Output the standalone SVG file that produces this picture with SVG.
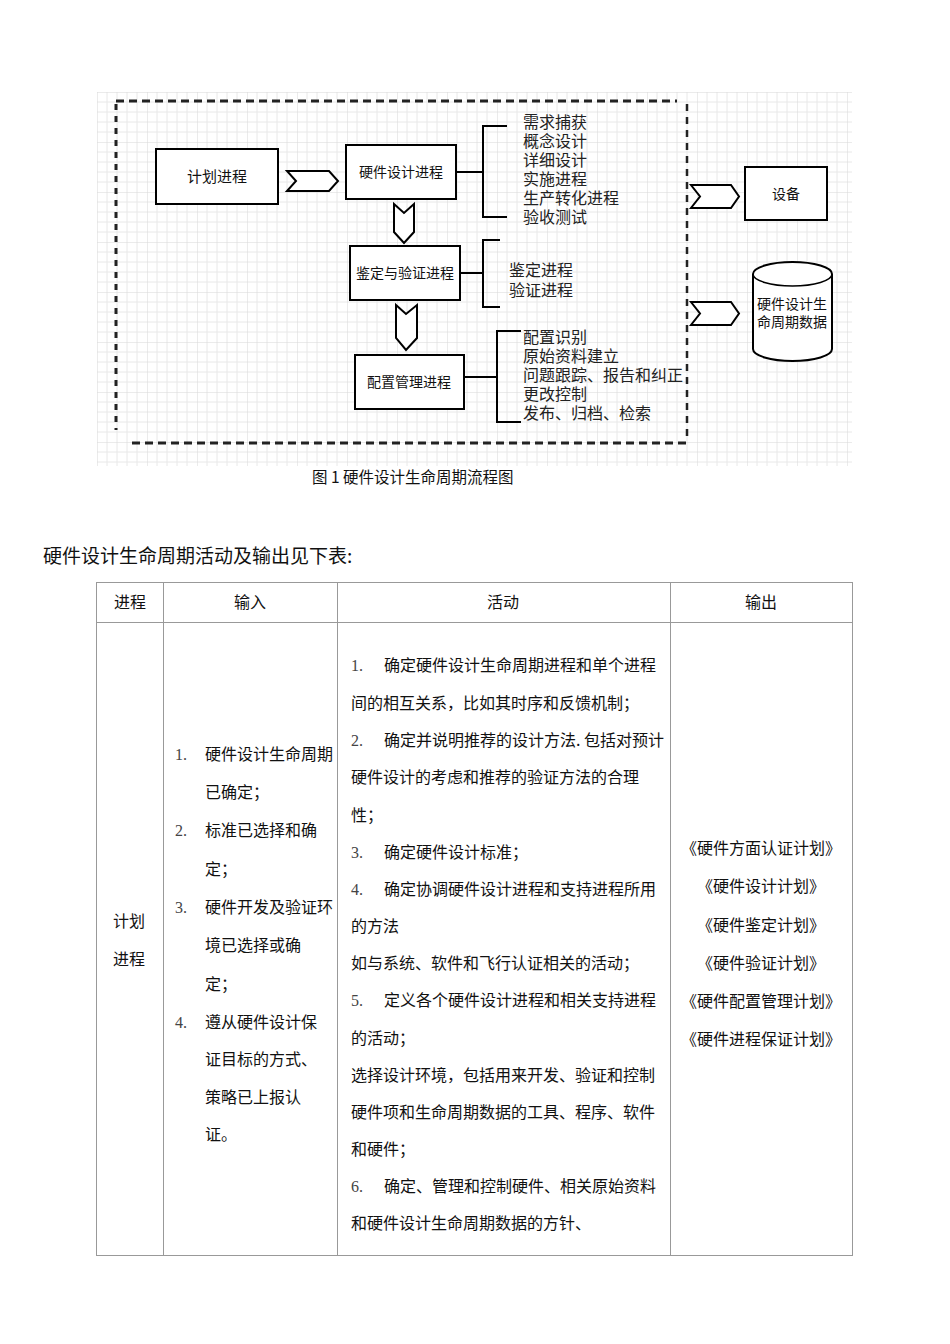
<svg xmlns="http://www.w3.org/2000/svg" width="950" height="1344" viewBox="0 0 950 1344">
<defs>
<pattern id="grid" x="97" y="92" width="50" height="50" patternUnits="userSpaceOnUse">
<path d="M10 0V50M20 0V50M30 0V50M40 0V50M0 10H50M0 20H50M0 30H50M0 40H50" stroke="#e8e8e8" stroke-width="1" fill="none"/>
<path d="M0 0V50M0 0H50" stroke="#d8d8d8" stroke-width="1" fill="none"/>
</pattern>
<style>
.box{fill:#fff;stroke:#000;stroke-width:2}
.chev{fill:#fff;stroke:#000;stroke-width:2;stroke-linejoin:miter}
.br{fill:none;stroke:#000;stroke-width:2}
.dash{fill:none;stroke:#222;stroke-width:3;stroke-dasharray:8 5}
.lbl{font-family:"Noto Sans CJK SC","Noto Sans",sans-serif;font-size:14px;fill:#111;text-anchor:middle}
.li{font-family:"Noto Sans CJK SC","Noto Sans",sans-serif;font-size:16px;fill:#222}
.t{font-family:"Noto Sans CJK SC","Noto Sans",sans-serif;font-size:16px;fill:#111}
.c{text-anchor:middle}
.n{font-family:"Liberation Serif","DejaVu Serif",serif;font-size:16px;fill:#444}
.tl{stroke:#999;stroke-width:1;fill:none}
</style>
</defs>
<rect width="950" height="1344" fill="#fff"/>
<rect x="97" y="92" width="755" height="374" fill="url(#grid)"/>

<g id="boundary">
<line class="dash" x1="116" y1="101" x2="677" y2="101"/>
<line class="dash" x1="116" y1="104" x2="116" y2="430" style="stroke-dasharray:6 6"/>
<line class="dash" x1="132" y1="443" x2="688" y2="443"/>
<line class="dash" x1="687" y1="104" x2="687" y2="440" style="stroke-width:2.5;stroke-dasharray:7 6"/>
</g>

<g id="n-plan"><rect class="box" x="156" y="149" width="122" height="55"/><text class="lbl" x="217" y="182" style="font-size:15px">计划进程</text></g>
<g id="n-design"><rect class="box" x="346" y="145" width="110" height="54"/><text class="lbl" x="401" y="177">硬件设计进程</text></g>
<g id="n-verify"><rect class="box" x="350" y="246" width="110" height="54"/><text class="lbl" x="405" y="278">鉴定与验证进程</text></g>
<g id="n-config"><rect class="box" x="355" y="355" width="109" height="54"/><text class="lbl" x="409" y="387">配置管理进程</text></g>
<g id="n-device"><rect class="box" x="745" y="167" width="82" height="53"/><text class="lbl" x="786" y="199">设备</text></g>
<g id="n-data">
<path class="box" d="M753 274 A39.5 12 0 0 1 832 274 V349 A39.5 12 0 0 1 753 349 Z"/>
<path class="br" d="M753 274 A39.5 12 0 0 0 832 274" style="stroke-width:1.5"/>
<text class="lbl" x="792" y="309">硬件设计生</text>
<text class="lbl" x="792" y="327">命周期数据</text>
</g>

<g id="design-list">
<text class="li" x="523" y="128">需求捕获</text>
<text class="li" x="523" y="147">概念设计</text>
<text class="li" x="523" y="166">详细设计</text>
<text class="li" x="523" y="185">实施进程</text>
<text class="li" x="523" y="204">生产转化进程</text>
<text class="li" x="523" y="223">验收测试</text>
</g>
<g id="verify-list">
<text class="li" x="509" y="276">鉴定进程</text>
<text class="li" x="509" y="296">验证进程</text>
</g>
<g id="config-list">
<text class="li" x="523" y="343">配置识别</text>
<text class="li" x="523" y="362">原始资料建立</text>
<text class="li" x="523" y="381">问题跟踪、报告和纠正</text>
<text class="li" x="523" y="400">更改控制</text>
<text class="li" x="523" y="419">发布、归档、检索</text>
</g>

<g id="connectors">
<polygon class="chev" points="287,171 329,171 338,181 329,191 287,191 296,181"/>
<polygon class="chev" points="394,204 404,213 414,204 414,232 404,243 394,232"/>
<polygon class="chev" points="396,305 406,314 417,305 417,338 406,350 396,338"/>
<polygon class="chev" points="691,185 731,185 739,196.5 731,208 691,208 700,196.5"/>
<polygon class="chev" points="691,302 731,302 739,313.5 731,325 691,325 700,313.5"/>
<path class="br" d="M456 172H483M507 126H483V217H507"/>
<path class="br" d="M460 273H483M500 240H483V307H500"/>
<path class="br" d="M464 377H497M521 331H497V422H521"/>
</g>

<text class="t" x="312" y="483" style="font-size:15.5px">图 1 硬件设计生命周期流程图</text>
<text class="t" x="43" y="563" style="font-size:19px">硬件设计生命周期活动及输出见下表:</text>

<g id="table">
<rect class="tl" x="96.5" y="582.5" width="756" height="673"/>
<line class="tl" x1="96" y1="622.5" x2="853" y2="622.5"/>
<line class="tl" x1="163.5" y1="582" x2="163.5" y2="1256"/>
<line class="tl" x1="337.5" y1="582" x2="337.5" y2="1256"/>
<line class="tl" x1="670.5" y1="582" x2="670.5" y2="1256"/>
<text class="t c" x="130" y="608">进程</text>
<text class="t c" x="250" y="608">输入</text>
<text class="t c" x="503" y="608">活动</text>
<text class="t c" x="761" y="608">输出</text>
<text class="t c" x="129" y="927">计划</text>
<text class="t c" x="129" y="965">进程</text>
</g>

<g id="inputs">
<text class="n" x="175" y="760">1.</text><text class="t" x="205" y="760">硬件设计生命周期</text>
<text class="t" x="205" y="798">已确定；</text>
<text class="n" x="175" y="836">2.</text><text class="t" x="205" y="836">标准已选择和确</text>
<text class="t" x="205" y="875">定；</text>
<text class="n" x="175" y="913">3.</text><text class="t" x="205" y="913">硬件开发及验证环</text>
<text class="t" x="205" y="951">境已选择或确</text>
<text class="t" x="205" y="990">定；</text>
<text class="n" x="175" y="1028">4.</text><text class="t" x="205" y="1028">遵从硬件设计保</text>
<text class="t" x="205" y="1065">证目标的方式、</text>
<text class="t" x="205" y="1103">策略已上报认</text>
<text class="t" x="205" y="1140">证。</text>
</g>

<g id="activities">
<text class="n" x="351" y="671">1.</text><text class="t" x="384" y="671">确定硬件设计生命周期进程和单个进程</text>
<text class="t" x="351" y="709">间的相互关系，比如其时序和反馈机制；</text>
<text class="n" x="351" y="746">2.</text><text class="t" x="384" y="746">确定并说明推荐的设计方法. 包括对预计</text>
<text class="t" x="351" y="783">硬件设计的考虑和推荐的验证方法的合理</text>
<text class="t" x="351" y="821">性；</text>
<text class="n" x="351" y="858">3.</text><text class="t" x="384" y="858">确定硬件设计标准；</text>
<text class="n" x="351" y="895">4.</text><text class="t" x="384" y="895">确定协调硬件设计进程和支持进程所用</text>
<text class="t" x="351" y="932">的方法</text>
<text class="t" x="351" y="969">如与系统、软件和飞行认证相关的活动；</text>
<text class="n" x="351" y="1006">5.</text><text class="t" x="384" y="1006">定义各个硬件设计进程和相关支持进程</text>
<text class="t" x="351" y="1044">的活动；</text>
<text class="t" x="351" y="1081">选择设计环境，包括用来开发、验证和控制</text>
<text class="t" x="351" y="1118">硬件项和生命周期数据的工具、程序、软件</text>
<text class="t" x="351" y="1155">和硬件；</text>
<text class="n" x="351" y="1192">6.</text><text class="t" x="384" y="1192">确定、管理和控制硬件、相关原始资料</text>
<text class="t" x="351" y="1229">和硬件设计生命周期数据的方针、</text>
</g>

<g id="outputs">
<text class="t c" x="761" y="854">《硬件方面认证计划》</text>
<text class="t c" x="761" y="892">《硬件设计计划》</text>
<text class="t c" x="761" y="931">《硬件鉴定计划》</text>
<text class="t c" x="761" y="969">《硬件验证计划》</text>
<text class="t c" x="761" y="1007">《硬件配置管理计划》</text>
<text class="t c" x="761" y="1045">《硬件进程保证计划》</text>
</g>
</svg>
